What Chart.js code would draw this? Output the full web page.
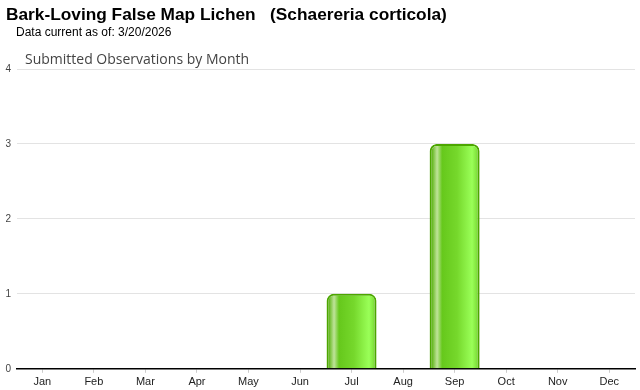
<!DOCTYPE html>
<html>
<head>
<meta charset="utf-8">
<script src="https://cdn.jsdelivr.net/npm/chart.js"></script>
<style>
  html, body { margin: 0; padding: 0; background: #fff; }
  #wrap { position: relative; width: 640px; height: 390px; overflow: hidden; font-family: "Liberation Sans", Arial, sans-serif; }
  #title { position: absolute; left: 6px; top: 4px; font-size: 17.3px; font-weight: bold; color: #000; white-space: pre; }
  #asof { position: absolute; left: 16px; top: 25px; font-size: 12px; color: #000; }
  #sub { position: absolute; left: 25px; top: 49px; font-size: 14px; color: #444; font-family: "Open Sans", "DejaVu Sans", sans-serif; }
  #c { position: absolute; left: 0; top: 0; }
</style>
</head>
<body>
<div id="wrap">
  <canvas id="c" width="640" height="390"></canvas>
  <div id="title">Bark-Loving False Map Lichen   (Schaereria corticola)</div>
  <div id="asof">Data current as of: 3/20/2026</div>
  <div id="sub">Submitted Observations by Month</div>
</div>
<script>
const months = ["Jan","Feb","Mar","Apr","May","Jun","Jul","Aug","Sep","Oct","Nov","Dec"];
const observations = [0, 0, 0, 0, 0, 0, 1, 0, 3, 0, 0, 0];
const yTicks = [0, 1, 2, 3, 4];

const catPct = 0.97;

function barFill(ctx) {
  const chart = ctx.chart;
  const x = chart.scales.x;
  if (!x || ctx.dataIndex === undefined) return "#6ccc20";
  const cx = x.getPixelForValue(ctx.dataIndex);
  const w = (x.width / months.length) * catPct;
  if (!isFinite(cx) || !isFinite(w) || w <= 0) return "#6ccc20";
  const g = chart.ctx.createLinearGradient(cx - w / 2, 0, cx + w / 2, 0);
  g.addColorStop(0, "#4a9e02");
  g.addColorStop(0.06, "#6cbc2a");
  g.addColorStop(0.15, "#bfe39a");
  g.addColorStop(0.25, "#66c81c");
  g.addColorStop(0.55, "#76d82c");
  g.addColorStop(0.85, "#9aff58");
  g.addColorStop(0.94, "#80e23c");
  g.addColorStop(1, "#4a9e02");
  return g;
}

new Chart(document.getElementById("c"), {
  type: "bar",
  data: {
    labels: months,
    datasets: [{
      data: observations,
      backgroundColor: barFill,
      borderColor: "#4ca600",
      borderWidth: 2,
      borderSkipped: "bottom",
      borderRadius: { topLeft: 7, topRight: 7, bottomLeft: 0, bottomRight: 0 },
      barPercentage: 1,
      categoryPercentage: catPct
    }]
  },
  options: {
    responsive: false,
    animation: false,
    layout: { padding: { top: 69, left: 0, right: 5, bottom: -2 } },
    plugins: { legend: { display: false }, tooltip: { enabled: false } },
    scales: {
      x: {
        grid: { display: true, drawOnChartArea: false, drawTicks: true, tickLength: 4, offset: false, color: "#ccc" },
        border: { display: true, color: "#000", width: 1.5 },
        ticks: { color: "#222", font: { family: "Liberation Sans, Arial", size: 11 }, padding: 3 }
      },
      y: {
        min: 0,
        max: yTicks[yTicks.length - 1],
        afterBuildTicks: (s) => { s.ticks = yTicks.map(v => ({ value: v })); },
        grid: { color: "#e3e3e3", drawTicks: false },
        border: { display: false },
        ticks: { color: "#444", font: { family: "Liberation Sans, Arial", size: 10 }, padding: 5.5 }
      }
    }
  }
});
</script>
</body>
</html>
